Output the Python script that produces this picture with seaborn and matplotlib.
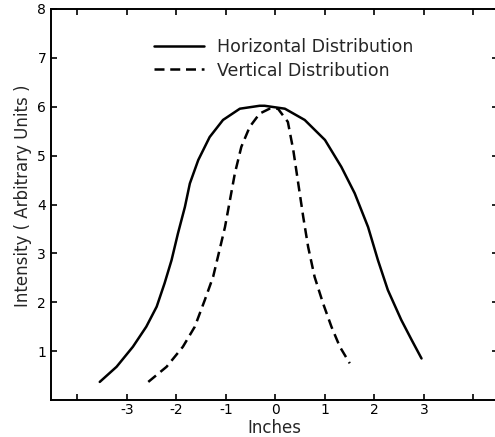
import pandas as pd
import matplotlib
matplotlib.use("Agg")
import matplotlib.pyplot as plt
import seaborn as sns

# points (inches, intensity)
horiz_x = [-3.55, -3.21, -2.88, -2.61, -2.40, -2.24, -2.10, -1.97, -1.83, -1.73, -1.56, -1.33,
           -1.06, -0.72, -0.32, -0.22, 0.19, 0.59, 1.00, 1.33, 1.60, 1.87, 2.07, 2.27,
           2.54, 2.75, 2.95]
horiz_y = [0.37, 0.68, 1.09, 1.50, 1.91, 2.39, 2.86, 3.41, 3.95, 4.43, 4.91, 5.38,
           5.73, 5.96, 6.02, 6.02, 5.96, 5.73, 5.32, 4.77, 4.23, 3.54, 2.86, 2.25,
           1.64, 1.23, 0.85]

vert_x = [-2.57, -2.20, -1.87, -1.63, -1.43, -1.26, -1.13, -1.02, -0.92, -0.82, -0.69, -0.52,
          -0.32, -0.12, 0.05, 0.25, 0.36, 0.46, 0.56, 0.66, 0.79, 0.96, 1.13, 1.30, 1.50]
vert_y = [0.37, 0.68, 1.09, 1.50, 2.04, 2.52, 3.07, 3.54, 4.09, 4.64, 5.18, 5.59,
          5.86, 5.96, 5.96, 5.69, 5.11, 4.43, 3.75, 3.13, 2.52, 1.98, 1.50, 1.09, 0.75]

x_ticks = [-4, -3, -2, -1, 0, 1, 2, 3, 4]
x_labels = ["", "-3", "-2", "-1", "0", "1", "2", "3", ""]
y_ticks = [1, 2, 3, 4, 5, 6, 7, 8]

sns.set_style("ticks")
plt.rcParams["font.family"] = ["DejaVu Sans"]

fig = plt.figure(figsize=(4.95, 4.37), dpi=100)
ax = fig.add_axes([51 / 495, 37 / 437, 446.5 / 495, 391 / 437])

horiz = pd.DataFrame({"x": horiz_x, "y": horiz_y})
vert = pd.DataFrame({"x": vert_x, "y": vert_y})

sns.lineplot(data=horiz, x="x", y="y", sort=False, ax=ax, color="black", lw=1.8,
             label="Horizontal Distribution")
sns.lineplot(data=vert, x="x", y="y", sort=False, ax=ax, color="black", lw=1.8,
             linestyle=(0, (4.0, 2.3)), label="Vertical Distribution")

ax.set_xlim(-4.535, 4.485)
ax.set_ylim(0, 8)
ax.set_xticks(x_ticks)
ax.set_xticklabels(x_labels)
ax.set_yticks(y_ticks)
ax.set_yticklabels([str(v) for v in y_ticks])
ax.tick_params(direction="in", length=4.2, width=1.2, labelsize=10, colors="black",
               top=True, right=True)
ax.tick_params(axis="x", pad=2.5)
for name, s in ax.spines.items():
    s.set_linewidth(1.4)
    s.set_color("black")
# the scan is cropped just before the right frame line, only its ticks show
ax.spines["right"].set_visible(False)

ax.set_xlabel("Inches", fontsize=12)
ax.xaxis.set_label_coords(0.5, -0.094)
ax.xaxis.label.set_va("bottom")
ax.set_ylabel("Intensity ( Arbitrary Units )", fontsize=12)
ax.yaxis.set_label_coords(-0.043, 0.522)

leg = ax.legend(loc="upper left", bbox_to_anchor=(0.2307, 0.925), frameon=False,
                fontsize=12.5, handlelength=2.88, handletextpad=0.75, labelspacing=0.3,
                borderpad=0, borderaxespad=0)

fig.savefig("out.png", dpi=100)
